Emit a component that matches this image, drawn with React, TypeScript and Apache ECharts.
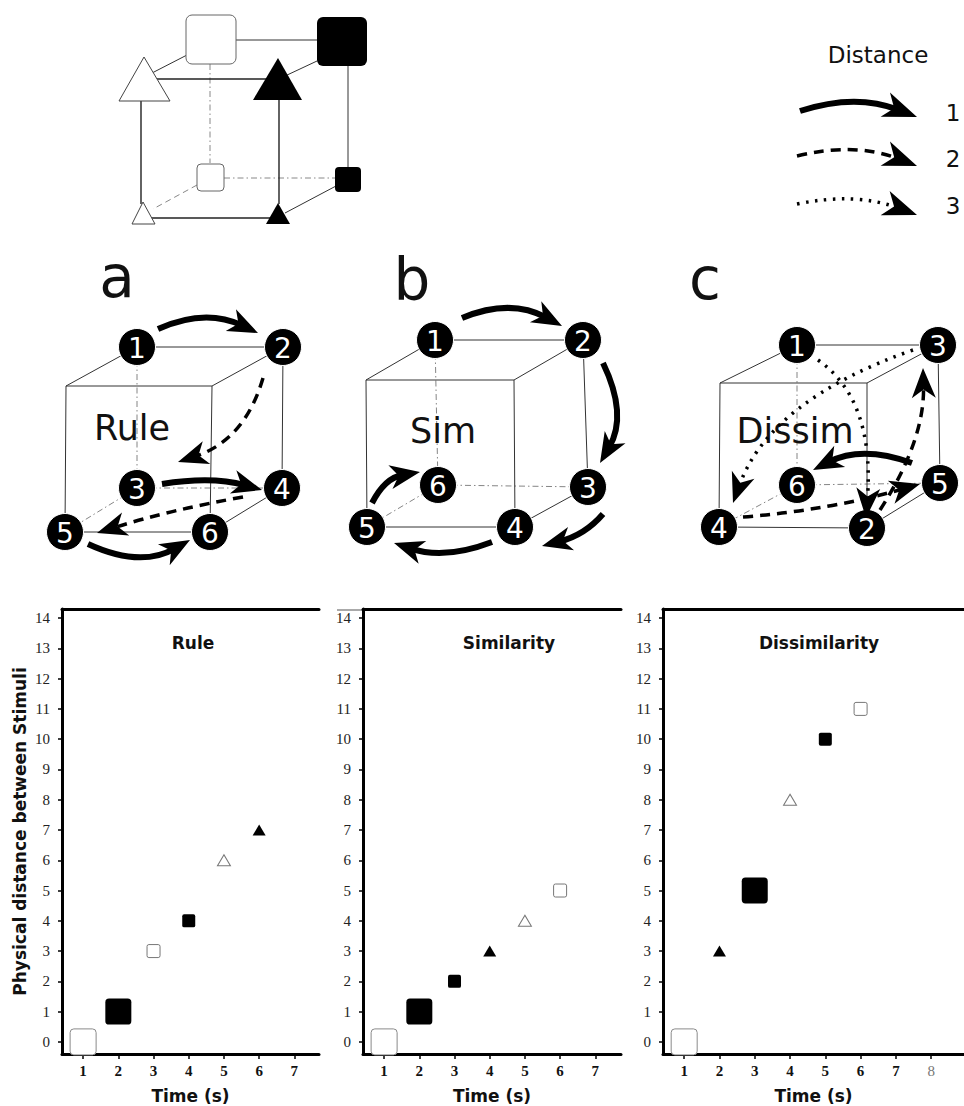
import React, { useEffect, useRef } from 'react';
import * as echarts from 'echarts';

// ---------------- data ----------------
const distanceTicks = [0, 1, 2, 3, 4, 5, 6, 7, 8, 9, 10, 11, 12, 13, 14];
const timeTicksShort = [1, 2, 3, 4, 5, 6, 7];
const timeTicksLong = [1, 2, 3, 4, 5, 6, 7, 8];

const panelTitles = ['Rule', 'Similarity', 'Dissimilarity'];
const xAxisTitle = 'Time (s)';
const yAxisTitle = 'Physical distance between Stimuli';

const ruleTime = [1, 2, 3, 4, 5, 6];
const ruleDistance = [0, 1, 3, 4, 6, 7];
const ruleStimulus = ['bigOpenSquare', 'bigFilledSquare', 'openSquare', 'filledSquare', 'openTriangle', 'filledTriangle'];

const simTime = [1, 2, 3, 4, 5, 6];
const simDistance = [0, 1, 2, 3, 4, 5];
const simStimulus = ['bigOpenSquare', 'bigFilledSquare', 'filledSquare', 'filledTriangle', 'openTriangle', 'openSquare'];

const dissimTime = [1, 2, 3, 4, 5, 6];
const dissimDistance = [0, 3, 5, 8, 10, 11];
const dissimStimulus = ['bigOpenSquare', 'filledTriangle', 'bigFilledSquare', 'openTriangle', 'filledSquare', 'openSquare'];

const legendTitle = 'Distance';
const legendLabels = ['1', '2', '3'];
const legendSteps = [1, 2, 3];

const cubeLetters = ['a', 'b', 'c'];
const cubeWords = ['Rule', 'Sim', 'Dissim'];
// labels at corners: [backTL, backTR, backBL, backBR, frontBL, frontBR]
const cubeANodes = ['1', '2', '3', '4', '5', '6'];
const cubeBNodes = ['1', '2', '6', '3', '5', '4'];
const cubeCNodes = ['1', '3', '6', '5', '4', '2'];
// distance of each transition in the sequence
const cubeASteps = [1, 2, 1, 2, 1];
const cubeBSteps = [1, 1, 1, 1, 1];
const cubeCSteps = [3, 2, 3, 2, 1];

// ---------------- layout ----------------
type P = [number, number];
const cubeGeo: Record<string, P>[] = [
  { btl: [137, 347], btr: [283, 347], bbl: [137, 488], bbr: [282, 488], ftl: [66, 386], ftr: [212, 386], fbl: [65, 532], fbr: [210, 532] },
  { btl: [435, 340], btr: [583, 340], bbl: [438, 485], bbr: [588, 487], ftl: [366, 380], ftr: [514, 380], fbl: [367, 527], fbr: [515, 527] },
  { btl: [797, 345], btr: [938, 345], bbl: [797, 485], bbr: [940, 483], ftl: [720, 383], ftr: [867, 383], fbl: [719, 527], fbr: [867, 528] },
];
const cubeArrows: P[][][] = [
  [
    [[158, 329], [205, 308], [258, 333]],
    [[263, 378], [245, 440], [178, 462]],
    [[162, 484], [212, 476], [262, 490]],
    [[243, 497], [170, 510], [97, 533]],
    [[88, 544], [140, 568], [190, 540]],
  ],
  [
    [[462, 318], [510, 298], [562, 326]],
    [[603, 363], [628, 415], [600, 463]],
    [[603, 514], [585, 535], [542, 546]],
    [[492, 542], [445, 560], [394, 543]],
    [[372, 503], [385, 478], [420, 472]],
  ],
  [
    [[818, 360], [875, 400], [866, 518]],
    [[880, 510], [925, 440], [923, 368]],
    [[913, 350], [770, 400], [733, 503]],
    [[743, 517], [830, 510], [920, 484]],
    [[912, 463], [862, 445], [813, 470]],
  ],
];
const legendArrows: P[][] = [
  [[800, 111], [855, 93], [917, 117]],
  [[797, 156], [855, 142], [917, 166]],
  [[797, 204], [855, 192], [917, 215]],
];

const squarePath = 'path://M2,0 H12 Q14,0 14,2 V12 Q14,14 12,14 H2 Q0,14 0,12 V2 Q0,0 2,0 Z';
const stimulusStyle: Record<string, any> = {
  bigOpenSquare: { symbol: squarePath, symbolSize: 26, itemStyle: { color: '#fff', borderColor: '#8a8a8a', borderWidth: 1, opacity: 1 } },
  bigFilledSquare: { symbol: squarePath, symbolSize: 26, itemStyle: { color: '#000', opacity: 1 } },
  openSquare: { symbol: squarePath, symbolSize: 13, itemStyle: { color: '#fff', borderColor: '#777', borderWidth: 1, opacity: 1 } },
  filledSquare: { symbol: squarePath, symbolSize: 13, itemStyle: { color: '#000', opacity: 1 } },
  openTriangle: { symbol: 'triangle', symbolSize: [13, 11], itemStyle: { color: '#fff', borderColor: '#777', borderWidth: 1, opacity: 1 } },
  filledTriangle: { symbol: 'triangle', symbolSize: [13, 11], itemStyle: { color: '#000', opacity: 1 } },
};

const SANS = '"DejaVu Sans"';
const SERIF = '"Liberation Serif"';

function txt(x: number, y: number, text: string, font: string, fill = '#111', align = 'center', va = 'middle') {
  return {
    type: 'text', x, y, silent: true,
    style: { text, font, fill, align, verticalAlign: va, textAlign: align, textVerticalAlign: va },
  };
}
function seg(a: P, b: P, stroke = '#333', lineWidth = 1, lineDash: any = null) {
  return { type: 'line', silent: true, shape: { x1: a[0], y1: a[1], x2: b[0], y2: b[1] }, style: { stroke, lineWidth, lineDash } };
}
function arrow(pts: P[], kind: number, L: number, W: number) {
  const [p0, c, p1] = pts;
  const dx = p1[0] - c[0], dy = p1[1] - c[1];
  const len = Math.hypot(dx, dy);
  const ux = dx / len, uy = dy / len;
  const px = -uy, py = ux;
  const end: P = [p1[0] - ux * L * 0.6, p1[1] - uy * L * 0.6];
  const st = kind === 1 ? { lineWidth: 6, lineDash: null } : kind === 2 ? { lineWidth: 3.5, lineDash: [10, 7] } : { lineWidth: 3.5, lineDash: [2.5, 6.5] };
  return [
    {
      type: 'bezierCurve', silent: true,
      shape: { x1: p0[0], y1: p0[1], x2: end[0], y2: end[1], cpx1: c[0], cpy1: c[1] },
      style: { stroke: '#000', fill: 'none', lineWidth: st.lineWidth, lineDash: st.lineDash },
    },
    {
      type: 'polygon', silent: true,
      shape: {
        points: [
          [p1[0], p1[1]],
          [p1[0] - ux * L + px * W / 2, p1[1] - uy * L + py * W / 2],
          [p1[0] - ux * L * 0.72, p1[1] - uy * L * 0.72],
          [p1[0] - ux * L - px * W / 2, p1[1] - uy * L - py * W / 2],
        ],
      },
      style: { fill: '#000', stroke: 'none' },
    },
  ];
}

function buildCube(i: number, labels: string[], steps: number[]) {
  const g = cubeGeo[i];
  const els: any[] = [];
  const solid: [string, string][] = [['btl', 'btr'], ['btl', 'ftl'], ['btr', 'ftr'], ['ftl', 'ftr'], ['ftl', 'fbl'], ['ftr', 'fbr'], ['btr', 'bbr'], ['fbl', 'fbr'], ['bbr', 'fbr']];
  const hidden: [string, string][] = [['btl', 'bbl'], ['bbl', 'bbr'], ['bbl', 'fbl']];
  hidden.forEach(([a, b]) => els.push(seg(g[a], g[b], '#777', 0.9, [6, 3, 1.5, 3])));
  solid.forEach(([a, b]) => els.push(seg(g[a], g[b], '#333', 1)));
  const wordPos: P[] = [[132, 428], [443, 431], [795, 431]];
  els.push(txt(wordPos[i][0], wordPos[i][1], cubeWords[i], `35px ${SANS}`, '#111'));
  const order = ['btl', 'btr', 'bbl', 'bbr', 'fbl', 'fbr'];
  order.forEach((k, j) => {
    const p = g[k];
    els.push({ type: 'circle', silent: true, shape: { cx: p[0], cy: p[1], r: 18.5 }, style: { fill: '#000', stroke: '#fff', lineWidth: 1 } });
    els.push(txt(p[0], p[1] + 1, labels[j], `28px ${SANS}`, '#fff'));
  });
  cubeArrows[i].forEach((a, j) => els.push(...arrow(a, steps[j], 30, 24)));
  const letterPos: P[] = [[117, 277], [412, 280], [705, 279]];
  els.push(txt(letterPos[i][0], letterPos[i][1], cubeLetters[i], `58px ${SANS}`, '#111'));
  return els;
}

function buildTopCube() {
  const els: any[] = [];
  const dashDot = [6, 3, 1.5, 3];
  els.push(seg([210, 64], [210, 163], '#888', 1, dashDot));
  els.push(seg([224, 178], [335, 178], '#888', 1, dashDot));
  els.push(seg([197, 185], [153, 209], '#888', 1, [6, 4]));
  els.push(seg([236, 40], [317, 40]));
  els.push(seg([187, 55], [152, 73]));
  els.push(seg([144, 79], [278, 79], '#222', 1.4));
  els.push(seg([317, 61], [285, 76]));
  els.push(seg([141, 101], [141, 204], '#222', 1.4));
  els.push(seg([279, 100], [279, 204], '#222', 1.4));
  els.push(seg([348, 66], [348, 167]));
  els.push(seg([143, 218], [278, 218], '#222', 1.4));
  els.push(seg([336, 186], [285, 213]));
  els.push({ type: 'rect', silent: true, shape: { x: 186, y: 15, width: 50, height: 49, r: 6 }, style: { fill: '#fff', stroke: '#666', lineWidth: 1 } });
  els.push({ type: 'rect', silent: true, shape: { x: 317, y: 17, width: 50, height: 49, r: 6 }, style: { fill: '#000' } });
  els.push({ type: 'polygon', silent: true, shape: { points: [[144, 57], [119, 101], [170, 101]] }, style: { fill: '#fff', stroke: '#444', lineWidth: 1 } });
  els.push({ type: 'polygon', silent: true, shape: { points: [[278, 58], [253, 100], [302, 100]] }, style: { fill: '#000' } });
  els.push({ type: 'rect', silent: true, shape: { x: 197, y: 164, width: 27, height: 27, r: 4 }, style: { fill: '#fff', stroke: '#666', lineWidth: 1 } });
  els.push({ type: 'rect', silent: true, shape: { x: 335, y: 167, width: 26, height: 25, r: 4 }, style: { fill: '#000' } });
  els.push({ type: 'polygon', silent: true, shape: { points: [[143, 202], [132, 224], [155, 224]] }, style: { fill: '#fff', stroke: '#444', lineWidth: 1 } });
  els.push({ type: 'polygon', silent: true, shape: { points: [[278, 203], [266, 224], [290, 224]] }, style: { fill: '#000' } });
  return els;
}

function buildLegend() {
  const els: any[] = [];
  els.push(txt(878, 55, legendTitle, `23px ${SANS}`, '#111'));
  const ly = [113, 159, 206];
  legendArrows.forEach((a, i) => {
    els.push(...arrow(a, legendSteps[i], 34, 26));
    els.push(txt(953, ly[i], legendLabels[i], `23px ${SANS}`, '#111'));
  });
  return els;
}

const grids = [
  { left: 62, top: 609, width: 257, height: 445, xmax: 7.7, ticks: timeTicksShort },
  { left: 363, top: 609, width: 258, height: 445, xmax: 7.73, ticks: timeTicksShort },
  { left: 663, top: 609, width: 301, height: 445, xmax: 8.93, ticks: timeTicksLong },
];

function seriesData(times: number[], dists: number[], stim: string[]) {
  return times.map((t, i) => ({ value: [t, dists[i]], ...stimulusStyle[stim[i]] }));
}

export default function App() {
  const ref = useRef<HTMLDivElement>(null);
  useEffect(() => {
    if (!ref.current) return;
    const chart = echarts.init(ref.current, undefined, { renderer: 'svg' });
    const nameStyle = { fontFamily: SANS, fontWeight: 'bold', fontSize: 17, color: '#111' };
    const xBottom = grids.map((g, i) => ({
      type: 'value', gridIndex: i, min: 0.4, max: g.xmax, position: 'bottom',
      axisLine: { show: true, onZero: false, lineStyle: { color: '#000', width: 3 } },
      axisTick: { show: true, length: 5, customValues: g.ticks, lineStyle: { color: '#000', width: 1.5 } },
      axisLabel: {
        show: true, customValues: g.ticks, margin: 9, fontFamily: SERIF, fontSize: 15, fontWeight: 'bold', color: '#111',
        formatter: (v: number) => (v === 8 ? '{g|8}' : String(v)),
        rich: { g: { fontFamily: SERIF, fontSize: 15, fontWeight: 'normal', color: '#777' } },
      },
      splitLine: { show: false },
      name: xAxisTitle, nameLocation: 'middle', nameGap: 33, nameTextStyle: nameStyle,
    }));
    const xTop = grids.map((g, i) => ({
      type: 'value', gridIndex: i, min: 0.4, max: g.xmax, position: 'top',
      axisLine: { show: true, onZero: false, lineStyle: { color: '#000', width: 3 } },
      axisTick: { show: false }, axisLabel: { show: false }, splitLine: { show: false },
    }));
    const yAxes = grids.map((g, i) => ({
      type: 'value', gridIndex: i, min: -0.4, max: 14.3,
      axisLine: { show: true, onZero: false, lineStyle: { color: '#000', width: 3 } },
      axisTick: { show: true, length: 4, customValues: distanceTicks, lineStyle: { color: '#000', width: 1.5 } },
      axisLabel: { show: true, customValues: distanceTicks, margin: 12, fontFamily: SERIF, fontSize: 15, color: '#222' },
      splitLine: { show: false },
      ...(i === 0 ? { name: yAxisTitle, nameLocation: 'middle', nameGap: 34, nameRotate: 90, nameTextStyle: nameStyle } : {}),
    }));
    const titleX = [193, 509, 819];
    const graphics: any[] = [
      ...buildTopCube(),
      ...buildLegend(),
      ...buildCube(0, cubeANodes, cubeASteps),
      ...buildCube(1, cubeBNodes, cubeBSteps),
      ...buildCube(2, cubeCNodes, cubeCSteps),
      seg([337, 610], [362, 610], '#555', 1),
      ...panelTitles.map((t, i) => txt(titleX[i], 643, t, `bold 17px ${SANS}`, '#111')),
    ];
    chart.setOption({
      animation: false,
      backgroundColor: '#fff',
      grid: grids.map((g) => ({ left: g.left, top: g.top, width: g.width, height: g.height, containLabel: false })),
      xAxis: [...xBottom, ...xTop],
      yAxis: yAxes,
      series: [
        { type: 'scatter', xAxisIndex: 0, yAxisIndex: 0, clip: false, data: seriesData(ruleTime, ruleDistance, ruleStimulus) },
        { type: 'scatter', xAxisIndex: 1, yAxisIndex: 1, clip: false, data: seriesData(simTime, simDistance, simStimulus) },
        { type: 'scatter', xAxisIndex: 2, yAxisIndex: 2, clip: false, data: seriesData(dissimTime, dissimDistance, dissimStimulus) },
      ],
      graphic: { elements: graphics },
    });
    return () => chart.dispose();
  }, []);
  return <div ref={ref} style={{ position: 'absolute', left: 0, top: 0, width: 964, height: 1106 }} />;
}
